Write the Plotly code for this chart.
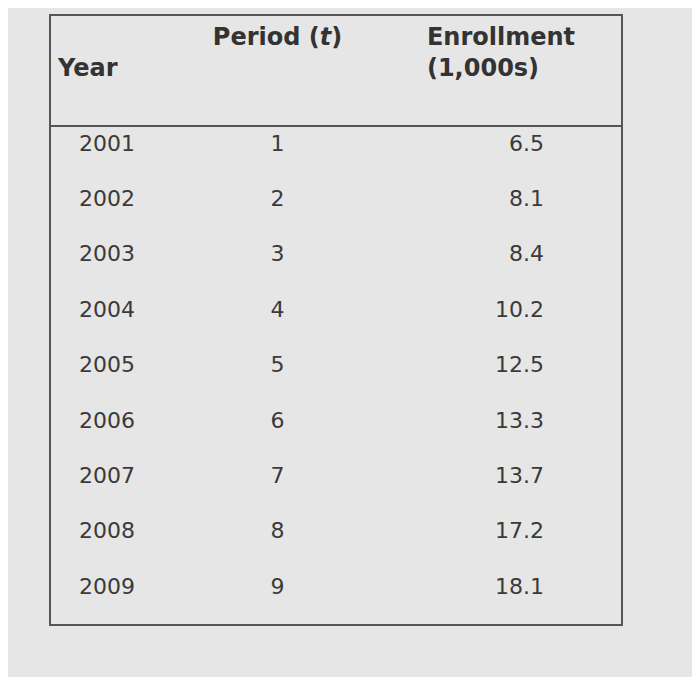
import plotly.graph_objects as go

years = ["2001", "2002", "2003", "2004", "2005", "2006", "2007", "2008", "2009"]
periods = ["1", "2", "3", "4", "5", "6", "7", "8", "9"]
enrollment = ["6.5", "8.1", "8.4", "10.2", "12.5", "13.3", "13.7", "17.2", "18.1"]
headers = ["<br><b>Year</b>", "<br><b>Period (<i>t</i>)</b>", "<b>Enrollment<br>(1,000s)</b>"]

W, H = 700, 677
off = 8  # page body offset
x0, x1 = (50 - off) / W, (622 - off) / W
y0, y1 = 1 - (625 - off) / H, 1 - (15 - off) / H
hdr_bottom = 1 - (126 - off) / H

pad = "\u00a0"
fig = go.Figure(go.Table(
    domain=dict(x=[x0, x1], y=[y0, y1]),
    columnwidth=[125, 205, 242],
    header=dict(
        values=[pad * 2 + headers[0], headers[1], headers[2]],
        align=["left", "center", "center"],
        height=111,
        fill_color="rgba(0,0,0,0)",
        line=dict(width=0),
        font=dict(family="DejaVu Sans", size=24, color="#333"),
    ),
    cells=dict(
        values=[[pad * 3 + y for y in years], periods,
                [e + pad * 10 for e in enrollment]],
        align=["left", "center", "right"],
        height=55.4,
        fill_color="rgba(0,0,0,0)",
        line=dict(width=0),
        font=dict(family="DejaVu Sans", size=22, color="#3a3a3a"),
    ),
))

fig.update_layout(
    width=W, height=H,
    margin=dict(l=0, r=0, t=0, b=0),
    paper_bgcolor="#e6e6e6",
    shapes=[
        dict(type="rect", xref="paper", yref="paper", x0=x0, x1=x1, y0=y0, y1=y1,
             line=dict(color="#555", width=2)),
        dict(type="line", xref="paper", yref="paper", x0=x0, x1=x1,
             y0=hdr_bottom, y1=hdr_bottom, line=dict(color="#555", width=2)),
    ],
)

fig.write_html("out.html")
